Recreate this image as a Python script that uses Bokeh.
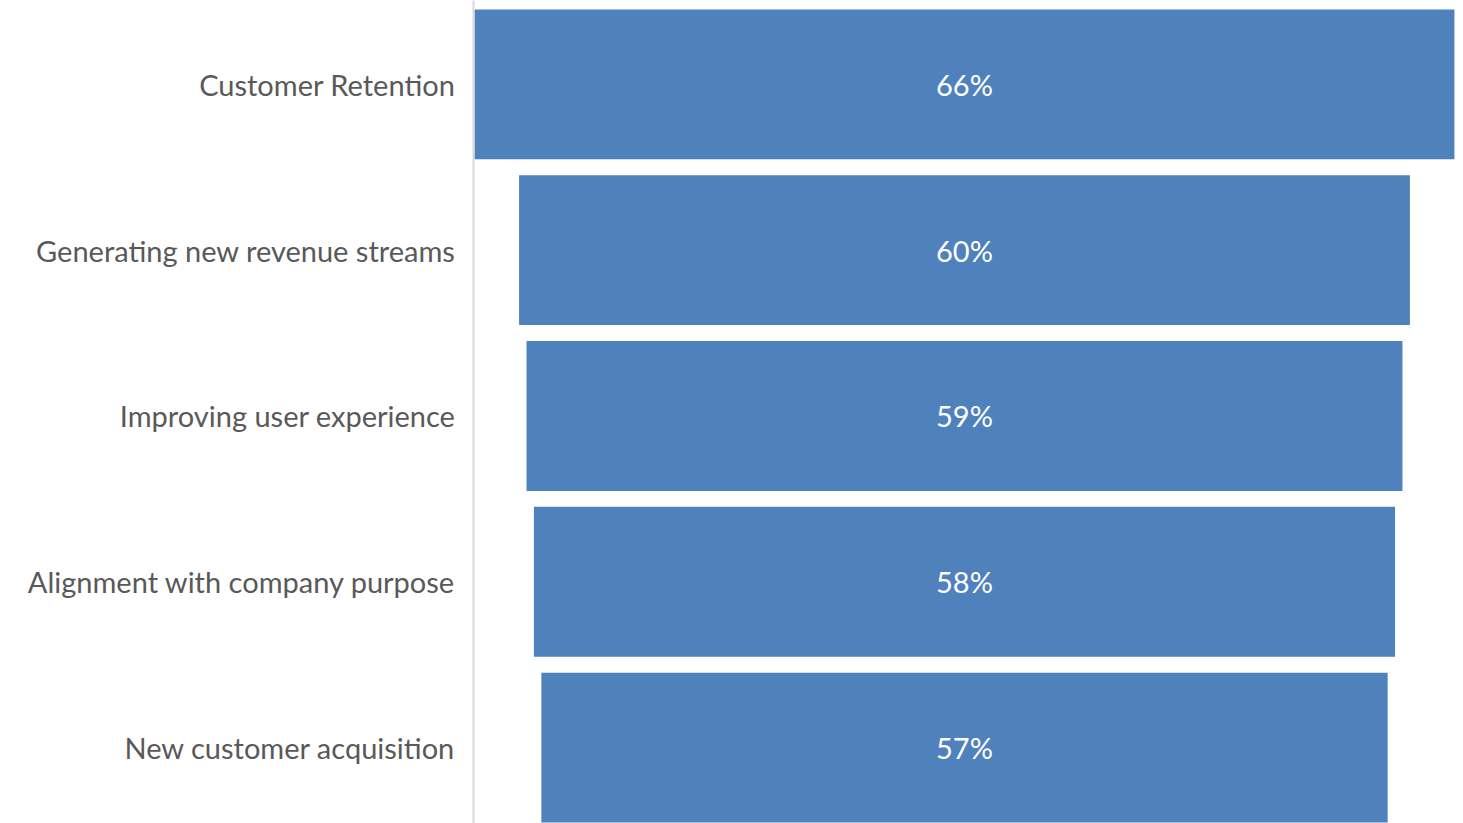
from bokeh.plotting import figure
from bokeh.models import Range1d, FixedTicker, ColumnDataSource, LabelSet
from bokeh.core.properties import value
from bokeh.embed import file_html
from bokeh.resources import INLINE

# Funnel stages, top to bottom
stages = [
    "Customer Retention",
    "Generating new revenue streams",
    "Improving user experience",
    "Alignment with company purpose",
    "New customer acquisition",
]
shares = [66, 60, 59, 58, 57]

positions = list(range(len(stages)))
source = ColumnDataSource(dict(
    y=positions,
    left=[-v / 2 for v in shares],
    right=[v / 2 for v in shares],
    x=[0] * len(shares),
    label=[f"{v}%" for v in shares],
))

p = figure(
    width=1463, height=823,
    output_backend="svg", toolbar_location=None,
    x_range=Range1d(-33.07, 33.61),
    y_range=Range1d(4.458, -0.506),
    min_border_left=473, min_border_right=0,
    min_border_top=0, min_border_bottom=0,
    background_fill_color="white", border_fill_color="white",
    outline_line_color=None,
)

p.hbar(y="y", left="left", right="right", height=0.904, source=source,
       fill_color="#4f81bd", line_color=None)

labels = LabelSet(x="x", y="y", text="label", source=source,
                  text_color="white", text_font=value("Lato"),
                  text_font_size="29px",
                  text_align="center", text_baseline="middle")
p.add_layout(labels)

p.xaxis.visible = False
p.xgrid.visible = False
p.ygrid.visible = False

yax = p.yaxis[0]
yax.ticker = FixedTicker(ticks=positions)
yax.major_label_overrides = {i: s for i, s in enumerate(stages)}
yax.major_label_text_font = "Lato"
yax.major_label_text_font_size = "29px"
yax.major_label_text_color = "#595959"
yax.major_label_standoff = 12
yax.major_tick_line_color = None
yax.minor_tick_line_color = None
yax.axis_line_color = "#d9d9d9"
yax.axis_line_width = 2

open("out.html", "w").write(file_html(p, INLINE))
